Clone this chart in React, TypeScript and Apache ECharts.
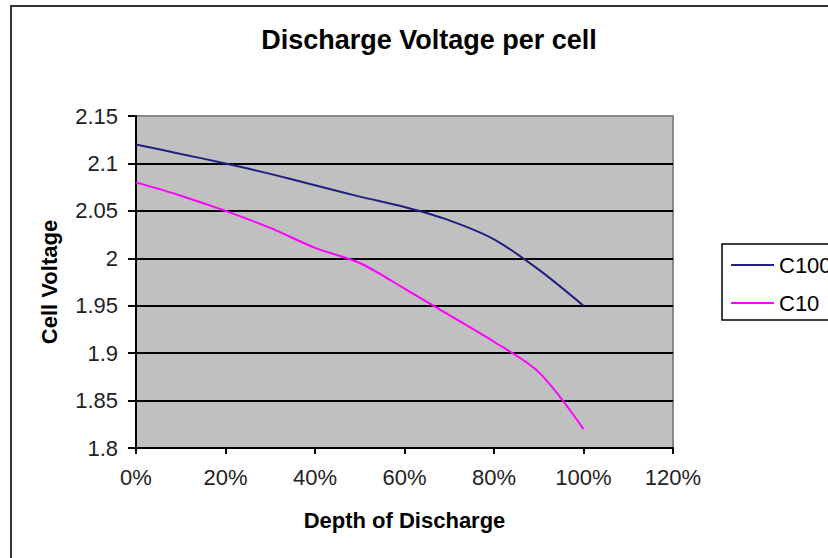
import React, { useEffect, useRef } from "react";
import * as echarts from "echarts";

const title = "Discharge Voltage per cell";
const xName = "Depth of Discharge";
const yName = "Cell Voltage";
const depth = [0, 10, 20, 30, 40, 50, 60, 70, 80, 90, 100];
const c100 = [2.12, 2.11, 2.1, 2.089, 2.077, 2.065, 2.054, 2.04, 2.02, 1.988, 1.95];
const c10 = [2.08, 2.066, 2.05, 2.032, 2.011, 1.995, 1.968, 1.94, 1.912, 1.88, 1.82];
const seriesNames = ["C100", "C10"];

const FONT = "'Liberation Sans', Arial, sans-serif";

export default function App() {
  const ref = useRef<HTMLDivElement>(null);
  useEffect(() => {
    if (!ref.current) return;
    const chart = echarts.init(ref.current, null, { renderer: "svg" });
    const toPairs = (ys: number[]) => depth.map((x, i) => [x, ys[i]]);
    chart.setOption({
      animation: false,
      backgroundColor: "#ffffff",
      textStyle: { fontFamily: FONT },
      graphic: [
        {
          type: "rect",
          z: -10,
          shape: { x: 11, y: 6, width: 900, height: 700 },
          style: { fill: "none", stroke: "#333", lineWidth: 2 },
        },
        {
          type: "text",
          x: 429,
          y: 40,
          style: {
            text: title,
            font: `bold 27px ${FONT}`,
            fill: "#000",
            align: "center",
            verticalAlign: "middle",
            textAlign: "center",
            textVerticalAlign: "middle",
          },
        },
      ],
      grid: {
        left: 136,
        right: 155,
        top: 116,
        bottom: 110,
        show: true,
        backgroundColor: "#C0C0C0",
        borderColor: "#888",
        borderWidth: 2,
      },
      legend: {
        orient: "vertical",
        left: 722,
        top: 244,
        padding: [10, 12, 6, 9],
        itemGap: 16,
        itemWidth: 43,
        itemHeight: 2,
        icon: "rect",
        borderColor: "#000",
        borderWidth: 1.5,
        backgroundColor: "#fff",
        textStyle: { fontSize: 22, color: "#000", fontFamily: FONT },
        data: seriesNames,
      },
      xAxis: {
        type: "value",
        min: 0,
        max: 120,
        interval: 20,
        name: xName,
        nameLocation: "middle",
        nameGap: 61,
        nameTextStyle: { fontSize: 22, fontWeight: "bold", color: "#000", fontFamily: FONT },
        axisLine: { show: true, onZero: false, lineStyle: { color: "#000", width: 2 } },
        axisTick: { show: true, length: 6, lineStyle: { color: "#000", width: 2 } },
        axisLabel: { formatter: "{value}%", fontSize: 22, color: "#222", margin: 18, fontFamily: FONT },
        splitLine: { show: false },
      },
      yAxis: {
        type: "value",
        min: 1.8,
        max: 2.15,
        interval: 0.05,
        name: yName,
        nameLocation: "middle",
        nameRotate: 90,
        nameGap: 76,
        nameTextStyle: { fontSize: 22, fontWeight: "bold", color: "#000", fontFamily: FONT },
        axisLine: { show: true, onZero: false, lineStyle: { color: "#000", width: 2 } },
        axisTick: { show: true, length: 8, lineStyle: { color: "#000", width: 2 } },
        axisLabel: { fontSize: 22, color: "#222", margin: 18, fontFamily: FONT },
        splitLine: {
          show: true,
          lineStyle: {
            color: ["#000", "#000", "#000", "#000", "#000", "#000", "#000", "#888"],
            width: 2,
          },
        },
      },
      series: [
        {
          name: seriesNames[0],
          type: "line",
          data: toPairs(c100),
          symbol: "none",
          smooth: 0.3,
          color: "#202080",
          lineStyle: { color: "#202080", width: 2 },
        },
        {
          name: seriesNames[1],
          type: "line",
          data: toPairs(c10),
          symbol: "none",
          smooth: 0.3,
          color: "#FF00FF",
          lineStyle: { color: "#FF00FF", width: 2 },
        },
      ],
    });
    return () => chart.dispose();
  }, []);
  return (
    <div
      ref={ref}
      style={{ position: "absolute", left: 0, top: 0, width: 828, height: 558 }}
    />
  );
}
